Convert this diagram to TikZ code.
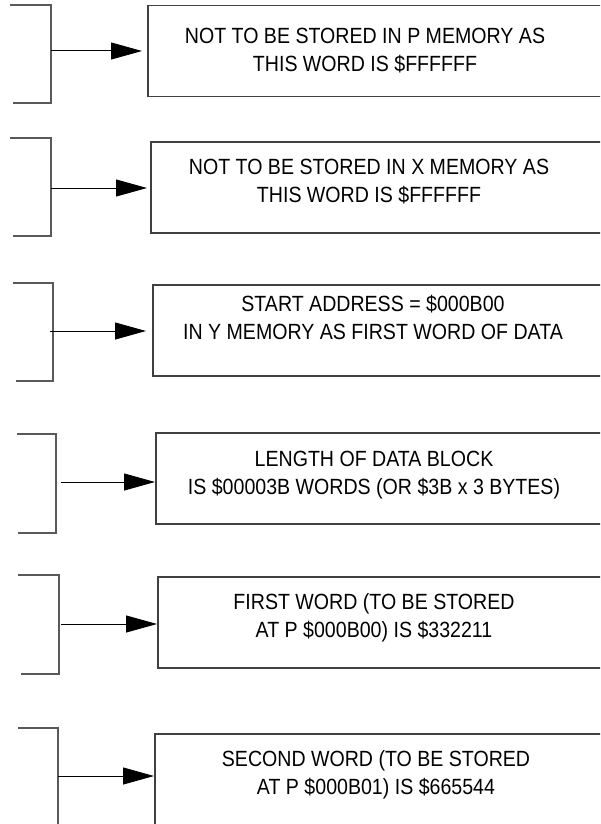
\documentclass[tikz,border=0pt]{standalone}
\usepackage{fontspec}
\setmainfont[FakeStretch=0.89]{Liberation Sans}
\usepackage{tikz}
\usetikzlibrary{arrows.meta}

\begin{document}
\begin{tikzpicture}[
  x=1pt, y=-1pt,
  font=\fontsize{22}{28}\selectfont,
  box/.style={draw=black!75, line width=1.5pt, rectangle, anchor=north west, minimum width=480pt, minimum height=91pt},
  txt/.style={align=center, inner sep=0pt},
  brk/.style={draw=black!65, line width=1.5pt},
  arr/.style={-{Triangle[length=31pt,width=17pt]}, line width=1pt}
]
\useasboundingbox (0,0) rectangle (600,824);
\clip (0,0) rectangle (600,824);

% brackets
\draw[brk] (10,5) -| (51,103) -- (13,103);
\draw[brk] (10,138) -| (51,236) -- (13,236);
\draw[brk] (13,283) -| (53,381) -- (16,381);
\draw[brk] (17,434) -| (56,533) -- (18,533);
\draw[brk] (18,575) -| (59,674) -- (21,674);
\draw[brk] (18,728) -| (58,830);
\coordinate (s1) at (51,51);
\coordinate (s2) at (51,188);
\coordinate (s3) at (50,331);
\coordinate (s4) at (61,482);
\coordinate (s5) at (61,624);
\coordinate (s6) at (58,776);

% boxes
\node[box] (b1) at (147,5) {};
\node[box] (b2) at (150,141) {};
\node[box] (b3) at (152,284) {};
\node[box] (b4) at (155,432) {};
\node[box] (b5) at (157,576) {};
\node[box] (b6) at (154,733) {};

\node[txt] (t1) at (365,51) {NOT TO BE STORED IN P MEMORY AS\\THIS WORD IS \$FFFFFF};
\node[txt] (t2) at (369,182) {NOT TO BE STORED IN X MEMORY AS\\THIS WORD IS \$FFFFFF};
\node[txt] (t3) at (373,317) {START ADDRESS = \$000B00\\IN Y MEMORY AS FIRST WORD OF DATA};
\node[txt] (t4) at (374,475) {LENGTH OF DATA BLOCK\\IS \$00003B WORDS (OR \$3B x 3 BYTES)};
\node[txt] (t5) at (374,618) {FIRST WORD (TO BE STORED\\AT P \$000B00) IS \$332211};
\node[txt] (t6) at (376,775) {SECOND WORD (TO BE STORED\\AT P \$000B01) IS \$665544};

% arrows
\draw[arr, shorten >=5pt] (s1) -- (s1 -| b1.west);
\draw[arr, shorten >=3pt] (s2) -- (s2 -| b2.west);
\draw[arr, shorten >=6pt] (s3) -- (s3 -| b3.west);
\draw[arr] (s4) -- (s4 -| b4.west);
\draw[arr] (s5) -- (s5 -| b5.west);
\draw[arr] (s6) -- (s6 -| b6.west);
\end{tikzpicture}
\end{document}
